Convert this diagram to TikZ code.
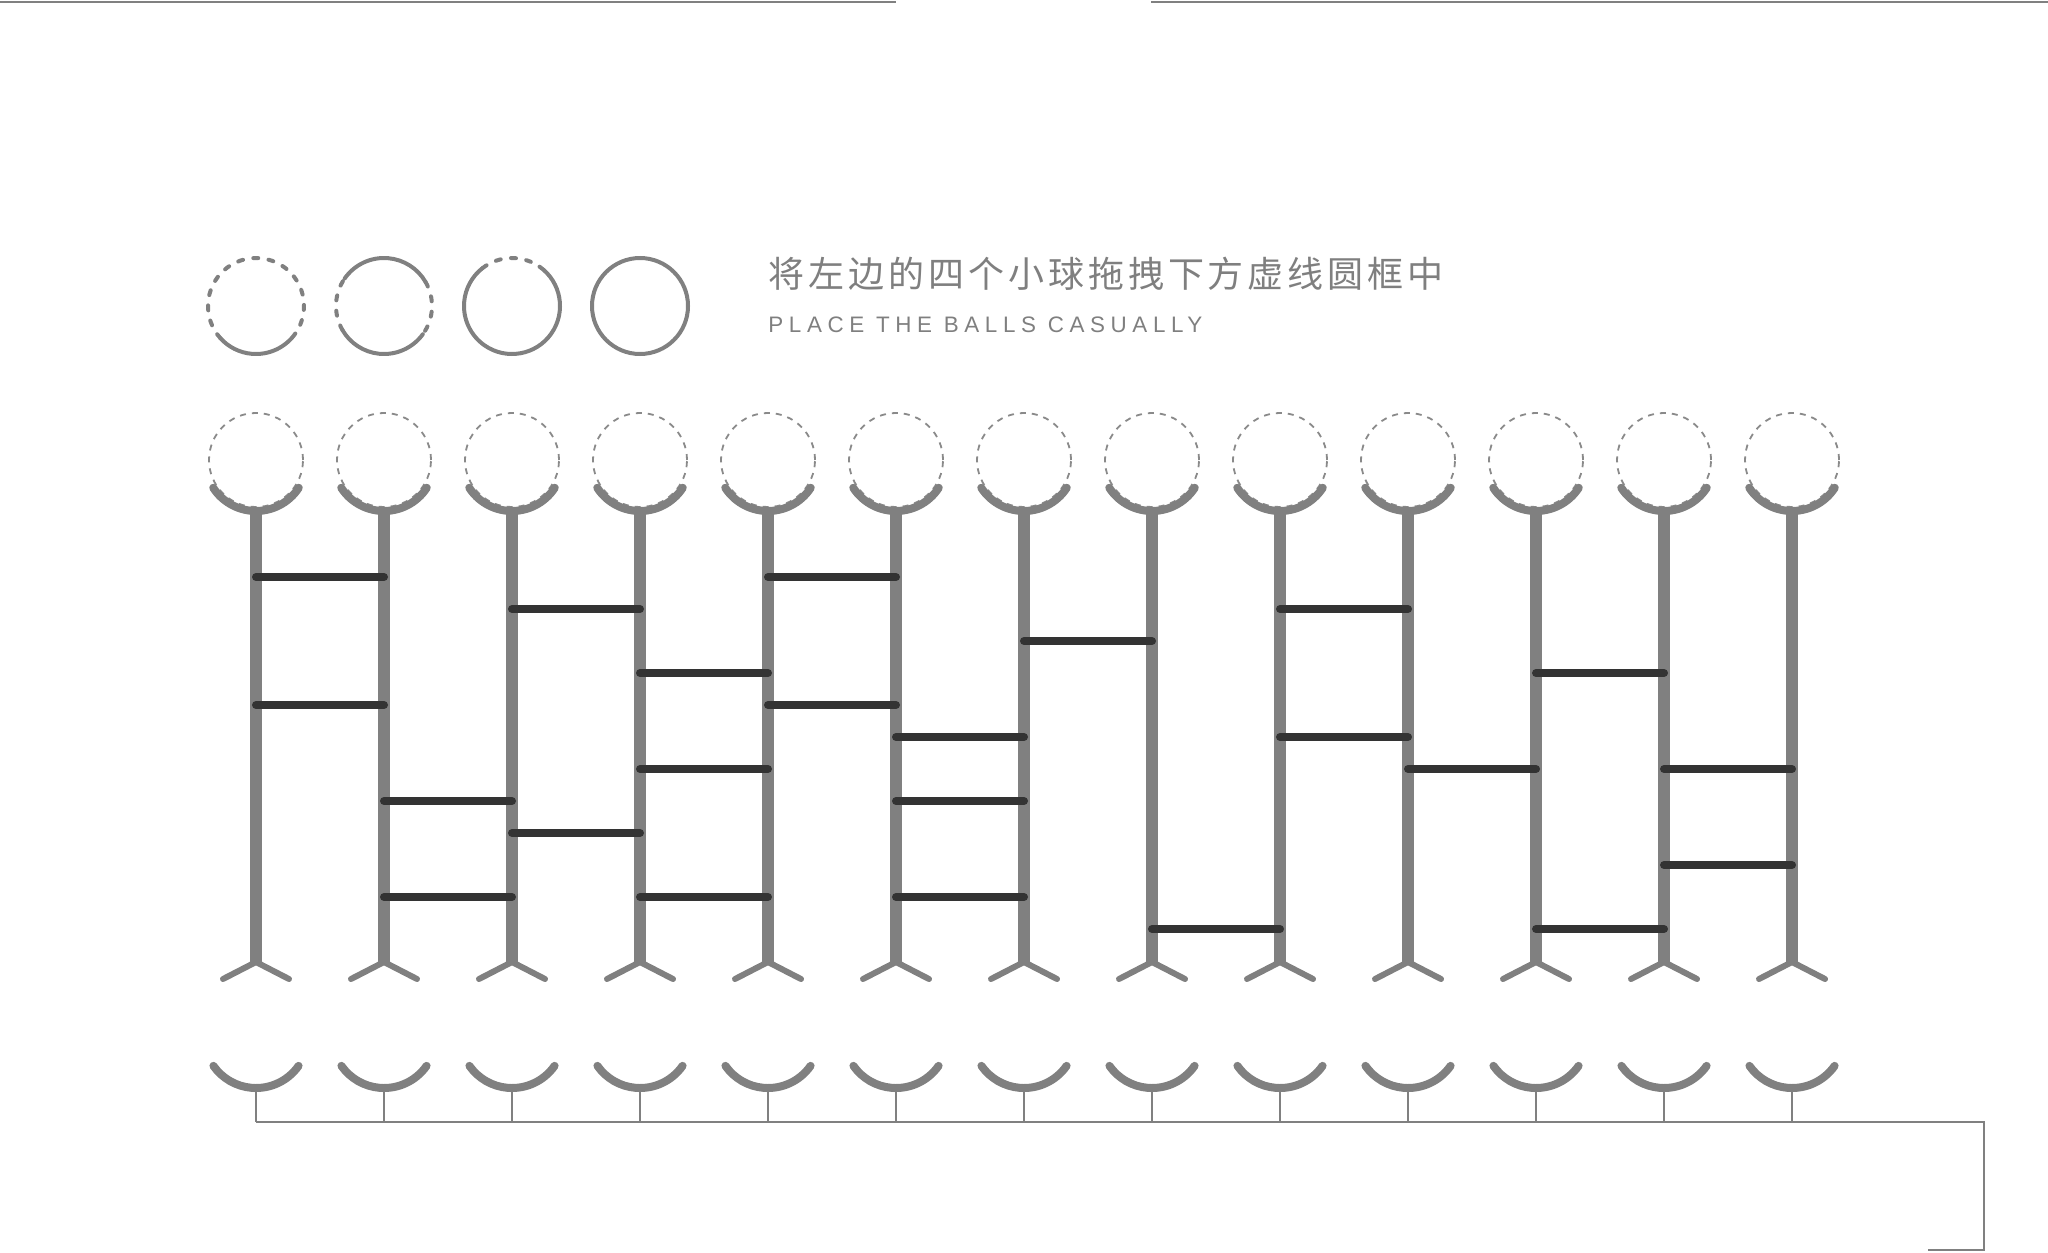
\documentclass[tikz,border=0pt]{standalone}
\usepackage{fontspec}
\usetikzlibrary{positioning, calc}
\newfontfamily\cjkfont[LetterSpace=11]{Noto Sans CJK SC}
\newfontfamily\capsfont[LetterSpace=25]{Liberation Sans}
\definecolor{polegrey}{HTML}{808080}
\definecolor{rungdark}{HTML}{333333}
\definecolor{wiregrey}{HTML}{8A8A8A}
\definecolor{textgrey}{HTML}{7F7F7F}

\begin{document}
\begin{tikzpicture}[x=0.5pt, y=-0.5pt,
        ballline/.style={polegrey, line width=2pt, line cap=round},
        balldash/.style={dash pattern=on 2.5pt off 5.2pt},
        slot/.style={circle, draw=wiregrey, line width=0.9pt, dash pattern=on 3pt off 3pt, minimum size=47pt, inner sep=0pt},
        bowl/.style={polegrey, line width=4pt, line cap=round},
        pole/.style={polegrey, line width=6pt},
        leg/.style={polegrey, line width=3pt, line cap=round, line join=round},
        rung/.style={rungdark, line width=4pt, line cap=round},
        wire/.style={polegrey, line width=1pt}]
    \useasboundingbox (0,0) rectangle (2048,1252);
    % frame lines at the top
    \draw[wire] (0,2) -- (896,2);
    \draw[wire] (1151,2) -- (2048,2);
    % the four balls to drag
    \foreach \i in {1,...,4}
        \node[circle, minimum size=48pt, inner sep=0pt] (ball\i) at (128+128*\i,306) {};
    \draw[ballline] (ball1.center) ++(35:48) arc[start angle=35, end angle=138, radius=48];
    \draw[ballline, balldash] (ball1.center) ++(138:48) arc[start angle=138, end angle=395, radius=48];
    \draw[ballline] (ball2.center) ++(215:48) arc[start angle=215, end angle=330, radius=48];
    \draw[ballline] (ball2.center) ++(36:48) arc[start angle=36, end angle=150, radius=48];
    \draw[ballline, balldash] (ball2.center) ++(150:48) arc[start angle=150, end angle=215, radius=48];
    \draw[ballline, balldash] (ball2.center) ++(330:48) arc[start angle=330, end angle=396, radius=48];
    \draw[ballline] (ball3.center) ++(305:48) arc[start angle=305, end angle=592, radius=48];
    \draw[ballline, balldash] (ball3.center) ++(232:48) arc[start angle=232, end angle=305, radius=48];
    \draw[ballline] (ball4.center) circle[radius=48];
    \node[anchor=base west, inner sep=0pt, text=textgrey, font=\cjkfont\fontsize{18}{18}\selectfont] (title) at (768,287) {将左边的四个小球拖拽下方虚线圆框中};
    \node[below right=13pt and 0pt of title.south west, inner sep=0pt, text=textgrey, font=\capsfont\fontsize{11.2}{12}\selectfont] (subtitle) {PLACE THE BALLS CASUALLY};
    % ladder
    \foreach \i in {0,...,12} {
        \node[slot] (slot\i) at (256+128*\i,460) {};
        \coordinate (foot\i) at (256+128*\i,962);
        \coordinate (cup\i) at (256+128*\i,1036);
        \coordinate (tap\i) at (256+128*\i,1122);
        \draw[bowl] (slot\i.center) ++(33:51) arc[start angle=33, end angle=147, radius=51];
        \draw[pole] (slot\i.center) ++(0,50) -- (foot\i);
        \draw[leg] (foot\i) ++(-33,17) -- (foot\i) -- ++(33,17);
        \draw[bowl] (cup\i) ++(35:52) arc[start angle=35, end angle=145, radius=52];
        \draw[wire] (cup\i) ++(0,53) -- (tap\i);
    }
    \foreach \c/\k [evaluate=\c as \d using int(\c+1)] in {0/0, 0/4, 1/7, 1/10, 2/1, 2/8, 3/3, 3/6, 3/10, 4/0, 4/4, 5/5, 5/7, 5/10, 6/2, 7/11, 8/1, 8/5, 9/6, 10/3, 10/11, 11/6, 11/9}
        \draw[rung] (slot\c |- 0,577+32*\k) -- (slot\d |- 0,577+32*\k);
    % output wire
    \coordinate (bend) at (1984,1122);
    \coordinate (wireend) at (1928,1250);
    \draw[wire] (tap0) -- (bend) |- (wireend);
\end{tikzpicture}
\end{document}
